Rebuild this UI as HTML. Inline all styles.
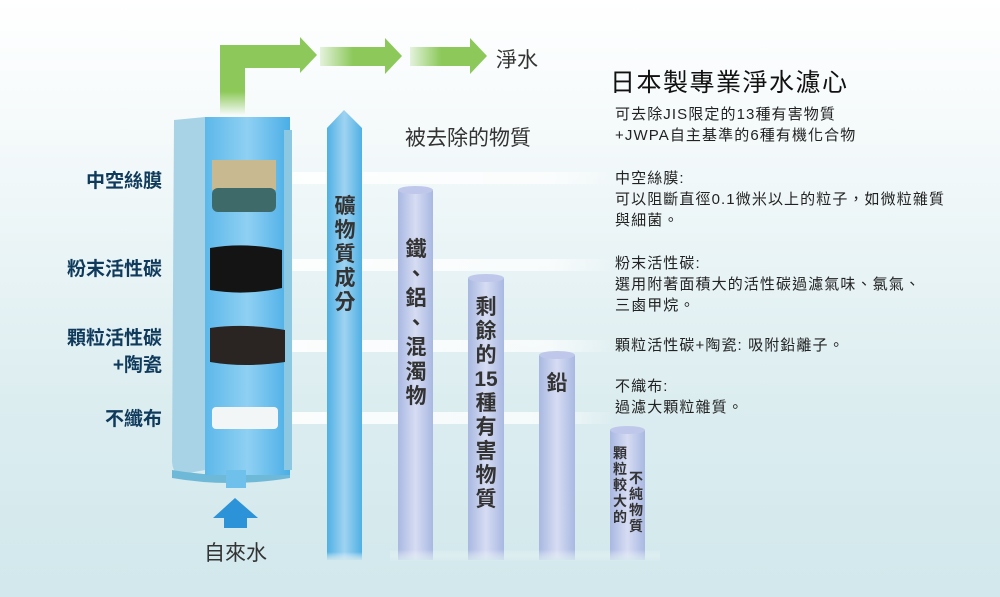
<!DOCTYPE html>
<html><head><meta charset="utf-8"><style>
body{margin:0;width:1000px;height:597px;overflow:hidden;position:relative;font-family:"Liberation Sans","Noto Sans CJK TC",sans-serif;background:linear-gradient(#ffffff 0px,#f3f9fa 150px,#dcedf0 400px,#d2e8ec 597px)}
.a{position:absolute;white-space:nowrap}
.lab{color:#0f3a5c;font-size:19px;right:838px;text-align:right;font-weight:bold}
.v{position:absolute;width:24px;font-size:21px;line-height:24px;text-align:center;color:#333;font-weight:bold}
.r{position:absolute;left:615px;font-size:15px;line-height:21px;color:#222;letter-spacing:1.1px;white-space:nowrap}
</style></head><body>
<svg width="1000" height="597" style="position:absolute;left:0;top:0">
<defs>
<linearGradient id="col" x1="0" x2="1"><stop offset="0" stop-color="#a9b8e2"/><stop offset=".5" stop-color="#d6dcf2"/><stop offset="1" stop-color="#a9b8e2"/></linearGradient>
<linearGradient id="colf" x1="0" y1="0" x2="0" y2="1"><stop offset=".8" stop-color="#fff" stop-opacity="0"/><stop offset="1" stop-color="#d2e8ec" stop-opacity=".9"/></linearGradient>
<linearGradient id="bl" x1="0" x2="1"><stop offset="0" stop-color="#4fb0e4"/><stop offset=".5" stop-color="#9fd3f1"/><stop offset="1" stop-color="#4fb0e4"/></linearGradient>
<linearGradient id="gr" x1="0" y1="0" x2="0" y2="1"><stop offset=".7" stop-color="#8dc95a"/><stop offset="1" stop-color="#8dc95a" stop-opacity="0"/></linearGradient>
<linearGradient id="grh" x1="0" x2="1"><stop offset="0" stop-color="#8dc95a" stop-opacity=".2"/><stop offset=".4" stop-color="#8dc95a"/></linearGradient>
<linearGradient id="band" x1="0" x2="1"><stop offset="0" stop-color="#fff" stop-opacity=".9"/><stop offset=".8" stop-color="#fff" stop-opacity=".7"/><stop offset="1" stop-color="#fff" stop-opacity="0"/></linearGradient>
<linearGradient id="body" x1="0" x2="1"><stop offset="0" stop-color="#5cb8ea"/><stop offset=".5" stop-color="#8fd0f3"/><stop offset="1" stop-color="#4aaee6"/></linearGradient>
</defs>
<rect x="285" y="172" width="330" height="12" fill="url(#band)"/>
<rect x="285" y="259" width="330" height="12" fill="url(#band)"/>
<rect x="285" y="340" width="330" height="12" fill="url(#band)"/>
<rect x="285" y="412" width="330" height="12" fill="url(#band)"/>
<path d="M220 115 V45 H300 V37 L317 55 L300 73 V68 H245 V115 Z" fill="url(#gr)"/>
<path d="M320 47 H385 V38 L402 56 L385 74 V66 H320 Z" fill="url(#grh)"/>
<path d="M410 47 H470 V38 L487 56 L470 74 V66 H410 Z" fill="url(#grh)"/>
<path d="M174 120 L205 117 L205 470 L178 475 Q172 470 172 460 Z" fill="#a8d3e6"/>
<path d="M172 470 Q230 480 290 470 L290 478 Q230 488 172 478 Z" fill="#6fb9d8"/>
<rect x="205" y="117" width="85" height="358" fill="url(#body)"/>
<rect x="284" y="130" width="8" height="340" fill="#8cc8e2"/>
<rect x="226" y="470" width="20" height="18" fill="#6fc1ec"/>
<rect x="212" y="160" width="64" height="30" fill="#c9b990"/>
<rect x="212" y="188" width="64" height="24" rx="6" fill="#3f6a6a"/>
<path d="M210 248 Q245 242 282 250 L282 288 Q245 296 210 290 Z" fill="#141414"/>
<path d="M210 328 Q245 323 285 330 L285 362 Q245 368 210 362 Z" fill="#2a2522"/>
<rect x="212" y="407" width="66" height="22" rx="4" fill="#f3f6f7"/>
<path d="M327 560 V128 L344 110 L362 128 V560 Z" fill="url(#bl)"/>
<rect x="327" y="520" width="35" height="40" fill="url(#colf)"/>
<g>
<rect x="398" y="190" width="35" height="370" fill="url(#col)"/><ellipse cx="415.5" cy="190" rx="17.5" ry="4" fill="#bfc8ea"/>
<rect x="468" y="278" width="36" height="282" fill="url(#col)"/><ellipse cx="486" cy="278" rx="18" ry="4" fill="#bfc8ea"/>
<rect x="539" y="355" width="36" height="205" fill="url(#col)"/><ellipse cx="557" cy="355" rx="18" ry="4" fill="#bfc8ea"/>
<rect x="610" y="430" width="35" height="130" fill="url(#col)"/><ellipse cx="627.5" cy="430" rx="17.5" ry="4" fill="#bfc8ea"/>
<rect x="390" y="500" width="270" height="62" fill="url(#colf)"/>
</g>
<path d="M213 518 L235 498 L258 518 H247 V528 H224 V518 Z" fill="#2d93d8"/>
</svg>
<div class="a" style="left:496px;top:44px;font-size:21px;color:#333">淨水</div>
<div class="a lab" style="top:166px">中空絲膜</div>
<div class="a lab" style="top:254px">粉末活性碳</div>
<div class="a lab" style="top:323px">顆粒活性碳</div>
<div class="a lab" style="top:350px">+陶瓷</div>
<div class="a lab" style="top:404px">不纖布</div>
<div class="a" style="left:204px;top:537px;font-size:21px;color:#333">自來水</div>
<div class="a" style="left:405px;top:122px;font-size:21px;color:#333">被去除的物質</div>
<div class="v" style="left:333px;top:195px">礦<br>物<br>質<br>成<br>分</div>
<div class="v" style="left:404px;top:238px;line-height:24.5px">鐵<br>、<br>鋁<br>、<br>混<br>濁<br>物</div>
<div class="v" style="left:474px;top:296px">剩<br>餘<br>的<br>15<br>種<br>有<br>害<br>物<br>質</div>
<div class="v" style="left:545px;top:372px">鉛</div>
<div class="v" style="left:612px;top:445px;font-size:14px;width:16px;line-height:16px">顆<br>粒<br>較<br>大<br>的</div>
<div class="v" style="left:628px;top:470px;font-size:14px;width:16px;line-height:16px">不<br>純<br>物<br>質</div>
<div class="a" style="left:610px;top:63px;font-size:25px;letter-spacing:1.5px;color:#111">日本製專業淨水濾心</div>
<div class="r" style="top:104px">可去除JIS限定的13種有害物質<br>+JWPA自主基準的6種有機化合物</div>
<div class="r" style="top:168px">中空絲膜:<br>可以阻斷直徑0.1微米以上的粒子，如微粒雜質<br>與細菌。</div>
<div class="r" style="top:253px">粉末活性碳:<br>選用附著面積大的活性碳過濾氣味、氯氣、<br>三鹵甲烷。</div>
<div class="r" style="top:335px">顆粒活性碳+陶瓷: 吸附鉛離子。</div>
<div class="r" style="top:376px">不織布:<br>過濾大顆粒雜質。</div>
</body></html>
